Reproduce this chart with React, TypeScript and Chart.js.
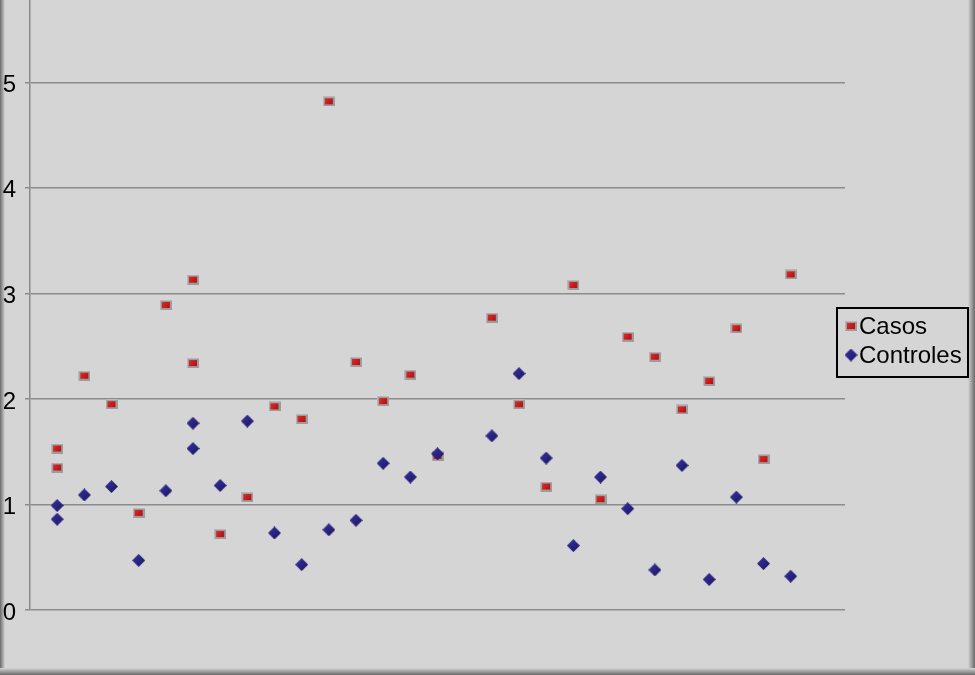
import React, { useEffect, useRef } from "react";
import { Chart, registerables } from "chart.js";

Chart.register(...registerables);

const seriesNames = ["Casos", "Controles"];
const casosX = [1, 1, 2, 3, 4, 5, 6, 6, 7, 8, 9, 10, 11, 12, 13, 14, 15, 17, 18, 19, 20, 21, 22, 23, 24, 25, 26, 27, 28];
const casosY = [1.53, 1.35, 2.22, 1.95, 0.92, 2.89, 3.13, 2.34, 0.72, 1.07, 1.93, 1.81, 4.82, 2.35, 1.98, 2.23, 1.46, 2.77, 1.95, 1.17, 3.08, 1.05, 2.59, 2.4, 1.9, 2.17, 2.67, 1.43, 3.18];
const controlesX = [1, 1, 2, 3, 4, 5, 6, 6, 7, 8, 9, 10, 11, 12, 13, 14, 15, 17, 18, 19, 20, 21, 22, 23, 24, 25, 26, 27, 28];
const controlesY = [0.99, 0.86, 1.09, 1.17, 0.47, 1.13, 1.77, 1.53, 1.18, 1.79, 0.73, 0.43, 0.76, 0.85, 1.39, 1.26, 1.48, 1.65, 2.24, 1.44, 0.61, 1.26, 0.96, 0.38, 1.37, 0.29, 1.07, 0.44, 0.32];
const yTicks = [0, 1, 2, 3, 4, 5];

const FONT = "'Liberation Sans', Arial, sans-serif";
const BG = "#d5d5d5";

function makeSquare(): HTMLCanvasElement {
  const c = document.createElement("canvas");
  c.width = 12;
  c.height = 10;
  const g = c.getContext("2d")!;
  g.fillStyle = "#9c9c9c";
  g.fillRect(0, 0, 12, 10);
  g.fillStyle = "#b8b8b8";
  g.fillRect(0, 0, 12, 1);
  g.fillRect(0, 0, 1, 10);
  const grad = g.createLinearGradient(2, 2, 10, 8);
  grad.addColorStop(0, "#e02a2a");
  grad.addColorStop(1, "#b01010");
  g.fillStyle = grad;
  g.fillRect(2, 2, 8, 6);
  return c;
}

function makeDiamond(): HTMLCanvasElement {
  const c = document.createElement("canvas");
  c.width = 13;
  c.height = 13;
  const g = c.getContext("2d")!;
  g.beginPath();
  g.moveTo(6.5, 0);
  g.lineTo(13, 6.5);
  g.lineTo(6.5, 13);
  g.lineTo(0, 6.5);
  g.closePath();
  const grad = g.createLinearGradient(0, 0, 13, 13);
  grad.addColorStop(0, "#3a33a0");
  grad.addColorStop(1, "#1a1460");
  g.fillStyle = grad;
  g.fill();
  return c;
}

export default function App() {
  const ref = useRef<HTMLCanvasElement | null>(null);

  useEffect(() => {
    document.body.style.margin = "0";
    const canvas = ref.current;
    if (!canvas) return;
    const sq = makeSquare();
    const di = makeDiamond();

    const framePlugin = {
      id: "frame",
      beforeDraw(chart: any) {
        const ctx = chart.ctx;
        const w = chart.width;
        const h = chart.height;
        ctx.save();
        ctx.fillStyle = BG;
        ctx.fillRect(0, 0, w, h);
        const gl = ctx.createLinearGradient(0, 0, 5, 0);
        gl.addColorStop(0, "#6a6a6a");
        gl.addColorStop(1, BG);
        ctx.fillStyle = gl;
        ctx.fillRect(0, 0, 5, h);
        const gr = ctx.createLinearGradient(w - 7, 0, w, 0);
        gr.addColorStop(0, BG);
        gr.addColorStop(1, "#6a6a6a");
        ctx.fillStyle = gr;
        ctx.fillRect(w - 7, 0, 7, h);
        const gb = ctx.createLinearGradient(0, h - 7, 0, h);
        gb.addColorStop(0, BG);
        gb.addColorStop(1, "#6a6a6a");
        ctx.fillStyle = gb;
        ctx.fillRect(0, h - 7, w, 7);
        ctx.restore();
      },
    };

    const legendPlugin = {
      id: "boxLegend",
      afterDraw(chart: any) {
        const ctx = chart.ctx;
        ctx.save();
        const x = 837, y = 308, w = 131, h = 69;
        ctx.fillStyle = BG;
        ctx.fillRect(x, y, w, h);
        ctx.strokeStyle = "#000";
        ctx.lineWidth = 2;
        ctx.strokeRect(x, y, w, h);
        ctx.font = `24px ${FONT}`;
        ctx.fillStyle = "#000";
        ctx.textBaseline = "middle";
        ctx.textAlign = "left";
        const marks = [sq, di];
        const rows = [326, 355];
        seriesNames.forEach((name, i) => {
          const m = marks[i];
          ctx.drawImage(m, 851 - m.width / 2, rows[i] - m.height / 2);
          ctx.fillText(name, 859, rows[i] + 1);
        });
        ctx.restore();
      },
    };

    const chart = new Chart(canvas, {
      type: "scatter",
      data: {
        datasets: [
          {
            label: seriesNames[0],
            data: casosX.map((x, i) => ({ x, y: casosY[i] })),
            pointStyle: sq as any,
            order: 2,
            backgroundColor: "#c01818",
          },
          {
            label: seriesNames[1],
            data: controlesX.map((x, i) => ({ x, y: controlesY[i] })),
            pointStyle: di as any,
            order: 1,
            backgroundColor: "#241c78",
          },
        ],
      },
      options: {
        responsive: false,
        animation: false,
        layout: { autoPadding: false, padding: { left: 0, right: 130, top: 0, bottom: 65 } },
        plugins: {
          legend: { display: false },
          tooltip: { enabled: false },
        },
        scales: {
          x: {
            type: "linear",
            min: 0,
            max: 30,
            display: false,
          },
          y: {
            type: "linear",
            min: 0,
            max: 5.78,
            afterFit: (scale: any) => {
              scale.width = 30;
              scale.paddingTop = 0;
              scale.paddingBottom = 0;
            },
            afterBuildTicks: (scale: any) => {
              scale.ticks = yTicks.map((v) => ({ value: v }));
            },
            border: { display: true, color: "#8a8a8a", width: 1.5 },
            grid: {
              color: "#8c8c8c",
              lineWidth: 1.5,
              drawTicks: true,
              tickLength: 5,
            },
            ticks: {
              padding: 9,
              labelOffset: 3,
              color: "#000",
              font: { family: FONT, size: 24 },
            },
          },
        },
      },
      plugins: [framePlugin, legendPlugin],
    });

    return () => chart.destroy();
  }, []);

  return (
    <div style={{ width: 975, height: 675 }}>
      <canvas ref={ref} width={975} height={675} style={{ display: "block", width: 975, height: 675 }} />
    </div>
  );
}
